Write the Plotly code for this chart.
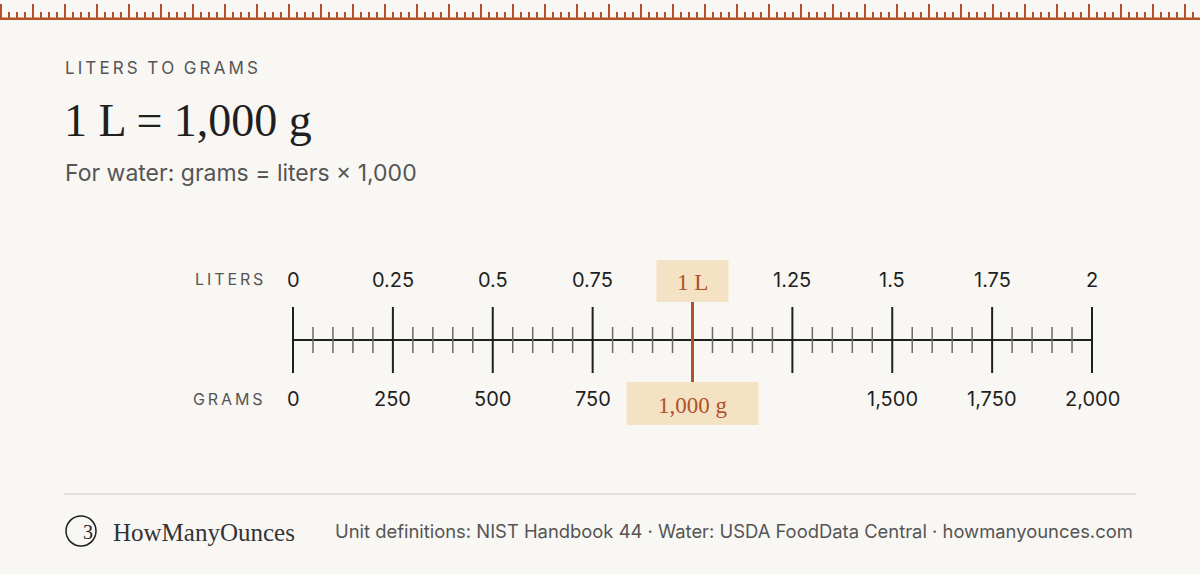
import plotly.graph_objects as go

liters_ticks = [0, 0.25, 0.5, 0.75, 1, 1.25, 1.5, 1.75, 2]
liter_labels = ["0", "0.25", "0.5", "0.75", "", "1.25", "1.5", "1.75", "2"]
gram_labels = ["0", "250", "500", "750", "", "", "1,500", "1,750", "2,000"]
minor_step = 0.05
highlight_l = 1
highlight_label_top = "1 L"
highlight_label_bottom = "1,000 g"

BG = "#f9f7f3"
ACC = "#b0512a"
INK = "#1f1f1f"
GREY = "#555555"

x0p, x2p = 293, 1092
scale = (x2p - x0p) / 2.0
xr = [-x0p / scale, (1200 - x0p) / scale]

fig = go.Figure()
fig.add_trace(go.Scatter(x=[0], y=[0], mode="markers", marker=dict(opacity=0), hoverinfo="skip", showlegend=False))
shapes = []
ann = []

def px(x):
    return x / 1200.0
def py(y):
    return 1 - y / 574.0

def A(**kw):
    kw.setdefault("showarrow", False)
    kw.setdefault("yanchor", "middle")
    ann.append(kw)

shapes.append(dict(type="rect", xref="paper", yref="paper", x0=0, x1=1, y0=py(20), y1=py(17.5), fillcolor=ACC, line_width=0, layer="above"))
for i in range(0, 151):
    xx = 1 + i * 8
    h = 14 if i % 4 == 0 else 6
    shapes.append(dict(type="line", xref="paper", yref="paper", x0=px(xx), x1=px(xx), y0=py(18), y1=py(18 - h), line=dict(color=ACC, width=2)))

shapes.append(dict(type="line", x0=0, x1=2, y0=340, y1=340, line=dict(color=INK, width=2)))
n = int(round(2 / minor_step))
for k in range(n + 1):
    v = k * minor_step
    if abs(v / 0.25 - round(v / 0.25)) < 1e-6:
        shapes.append(dict(type="line", x0=v, x1=v, y0=307, y1=373, line=dict(color=INK, width=2)))
    else:
        shapes.append(dict(type="line", x0=v, x1=v, y0=327, y1=353, line=dict(color="#6a6a62", width=1.5)))

for v, lt, gt in zip(liters_ticks, liter_labels, gram_labels):
    if lt:
        A(x=v, y=280, text=lt, font=dict(family="Inter", size=20, color=INK))
    if gt:
        A(x=v, y=399, text=gt, font=dict(family="Inter", size=20, color=INK))

A(x=-0.07, y=279, text="L I T E R S".replace(" ", "\u2009"), xanchor="right", font=dict(family="Inter", size=16, color=GREY))
A(x=-0.07, y=399, text="G R A M S".replace(" ", "\u2009"), xanchor="right", font=dict(family="Inter", size=16, color=GREY))

h = highlight_l
shapes.append(dict(type="line", x0=h, x1=h, y0=302, y1=382, line=dict(color=ACC, width=3)))
w1 = 36 / scale
shapes.append(dict(type="rect", x0=h - w1, x1=h + w1, y0=260, y1=302, fillcolor="#f3e3c4", line_width=0))
w2 = 66 / scale
shapes.append(dict(type="rect", x0=h - w2, x1=h + w2, y0=382, y1=425, fillcolor="#f3e3c4", line_width=0))
A(x=h, y=282, text=highlight_label_top, font=dict(family="Liberation Serif", size=23, color=ACC))
A(x=h, y=405, text=highlight_label_bottom, font=dict(family="Liberation Serif", size=23, color=ACC))

A(xref="paper", yref="paper", x=px(63), y=py(68), text="L I T E R S   T O   G R A M S".replace(" ", "\u2009").replace("\u2009\u2009\u2009", "  "), xanchor="left", font=dict(family="Inter", size=17, color=GREY))
A(xref="paper", yref="paper", x=px(62), y=py(120), text="1 L = 1,000 g", xanchor="left", font=dict(family="Liberation Serif", size=46, color=INK))
A(xref="paper", yref="paper", x=px(63), y=py(173), text="For water: grams = liters × 1,000", xanchor="left", font=dict(family="Inter", size=23, color=GREY))

shapes.append(dict(type="line", xref="paper", yref="paper", x0=px(64), x1=px(1136), y0=py(494), y1=py(494), line=dict(color="#dedad2", width=1.5)))
shapes.append(dict(type="circle", xref="paper", yref="paper", x0=px(66), x1=px(96), y0=py(516), y1=py(546), line=dict(color=INK, width=1.5)))
A(xref="paper", yref="paper", x=px(81), y=py(532), text="3", font=dict(family="Liberation Serif", size=20, color=INK))
A(xref="paper", yref="paper", x=px(111), y=py(532), text="HowManyOunces", xanchor="left", font=dict(family="Liberation Serif", size=25, color="#333333"))
A(xref="paper", yref="paper", x=px(1135), y=py(531), text="Unit definitions: NIST Handbook 44 · Water: USDA FoodData Central · howmanyounces.com", xanchor="right", font=dict(family="Inter", size=18.4, color=GREY))

fig.update_layout(
    width=1200, height=574, margin=dict(l=0, r=0, t=0, b=0),
    paper_bgcolor=BG, plot_bgcolor=BG, shapes=shapes, annotations=ann,
    xaxis=dict(range=xr, visible=False, fixedrange=True),
    yaxis=dict(range=[574, 0], visible=False, fixedrange=True),
    showlegend=False,
)
fig.write_html("out.html", config={"displayModeBar": False},
               post_script="document.body.style.margin='0';document.body.style.background='#f9f7f3';")
